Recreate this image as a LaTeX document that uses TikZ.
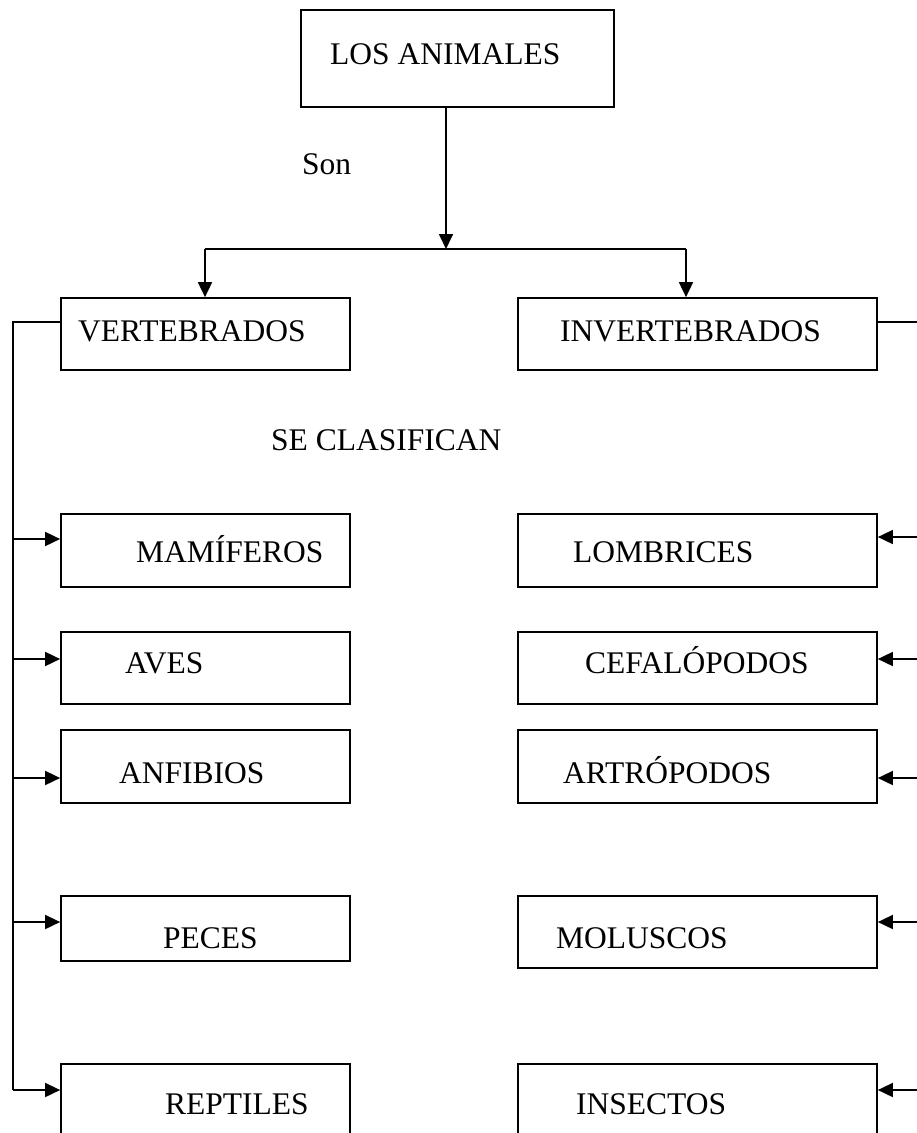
\documentclass[tikz,border=0pt]{standalone}
\usepackage{fontspec}
\setmainfont{Liberation Serif}
\usetikzlibrary{arrows.meta}
\begin{document}
\begin{tikzpicture}[x=1pt,y=-1pt,
  box/.style={draw=black,line width=1.7pt,rectangle,inner sep=0pt},
  txt/.style={anchor=base west,inner sep=0pt,font=\fontsize{31.5}{36}\selectfont},
  conn/.style={line width=1.7pt},
  arr/.style={conn,-{Triangle[length=15pt,width=14pt]}}]
\useasboundingbox (0,0) rectangle (917,1133);

% boxes: corners given in picture coordinates
\newcommand{\boxat}[5]{\node[box,minimum width={(#4-#2)*1pt},minimum height={(#5-#3)*1pt}] (#1) at ({(#2+#4)/2},{(#3+#5)/2}) {};}
\boxat{root}{301}{10}{614}{107}
\boxat{vert}{61}{298}{350}{370}
\boxat{inv}{518}{298}{877}{370}
\boxat{mam}{61}{514}{350}{587}
\boxat{lomb}{518}{514}{877}{587}
\boxat{aves}{61}{632}{350}{704}
\boxat{cefa}{518}{632}{877}{704}
\boxat{anf}{61}{730}{350}{803}
\boxat{artr}{518}{730}{877}{803}
\boxat{pec}{61}{896}{350}{961}
\boxat{mol}{518}{896}{877}{968}
\boxat{rep}{61}{1064}{350}{1150}
\boxat{ins}{518}{1064}{877}{1150}

% texts
\node[txt] (troot) at (330,64) {LOS ANIMALES};
\node[txt] (son) at (302,174) {Son};
\node[txt] (tvert) at (78,341) {VERTEBRADOS};
\node[txt] (tinv) at (560,341) {INVERTEBRADOS};
\node[txt] (clas) at (271,450) {SE CLASIFICAN};
\node[txt] (tmam) at (136,562) {MAMÍFEROS};
\node[txt] (tlomb) at (573,562) {LOMBRICES};
\node[txt] (taves) at (125,673) {AVES};
\node[txt] (tcefa) at (585,673) {CEFALÓPODOS};
\node[txt] (tanf) at (119,783) {ANFIBIOS};
\node[txt] (tartr) at (563,783) {ARTRÓPODOS};
\node[txt] (tpec) at (163,948) {PECES};
\node[txt] (tmol) at (556,948) {MOLUSCOS};
\node[txt] (trep) at (165,1114) {REPTILES};
\node[txt] (tins) at (576,1114) {INSECTOS};

% branching from the root
\coordinate (split) at (446,249);
\coordinate (sl) at (205,249);
\coordinate (sr) at (686,249);
\draw[arr] (root.south -| split) -- (split);
\draw[conn] (sl) -- (sr);
\draw[arr] (sl) -- (sl |- vert.north);
\draw[arr] (sr) -- (sr |- inv.north);

% left rail: vertebrates
\coordinate (lt) at (13,322);
\coordinate (lb) at (13,1090);
\draw[conn] (vert.west |- lt) -- (lt) -- (lb);
\draw[arr] (13,539) -- (mam.west |- 0,539);
\draw[arr] (13,659) -- (aves.west |- 0,659);
\draw[arr] (13,778) -- (anf.west |- 0,778);
\draw[arr] (13,922) -- (pec.west |- 0,922);
\draw[arr] (lb) -- (rep.west |- lb);

% right rail: invertebrates
\coordinate (rt) at (935,322);
\coordinate (rb) at (935,1090);
\draw[conn] (inv.east |- rt) -- (rt) -- (rb);
\draw[arr] (935,537) -- (lomb.east |- 0,537);
\draw[arr] (935,659) -- (cefa.east |- 0,659);
\draw[arr] (935,778) -- (artr.east |- 0,778);
\draw[arr] (935,922) -- (mol.east |- 0,922);
\draw[arr] (rb) -- (ins.east |- rb);
\end{tikzpicture}
\end{document}
